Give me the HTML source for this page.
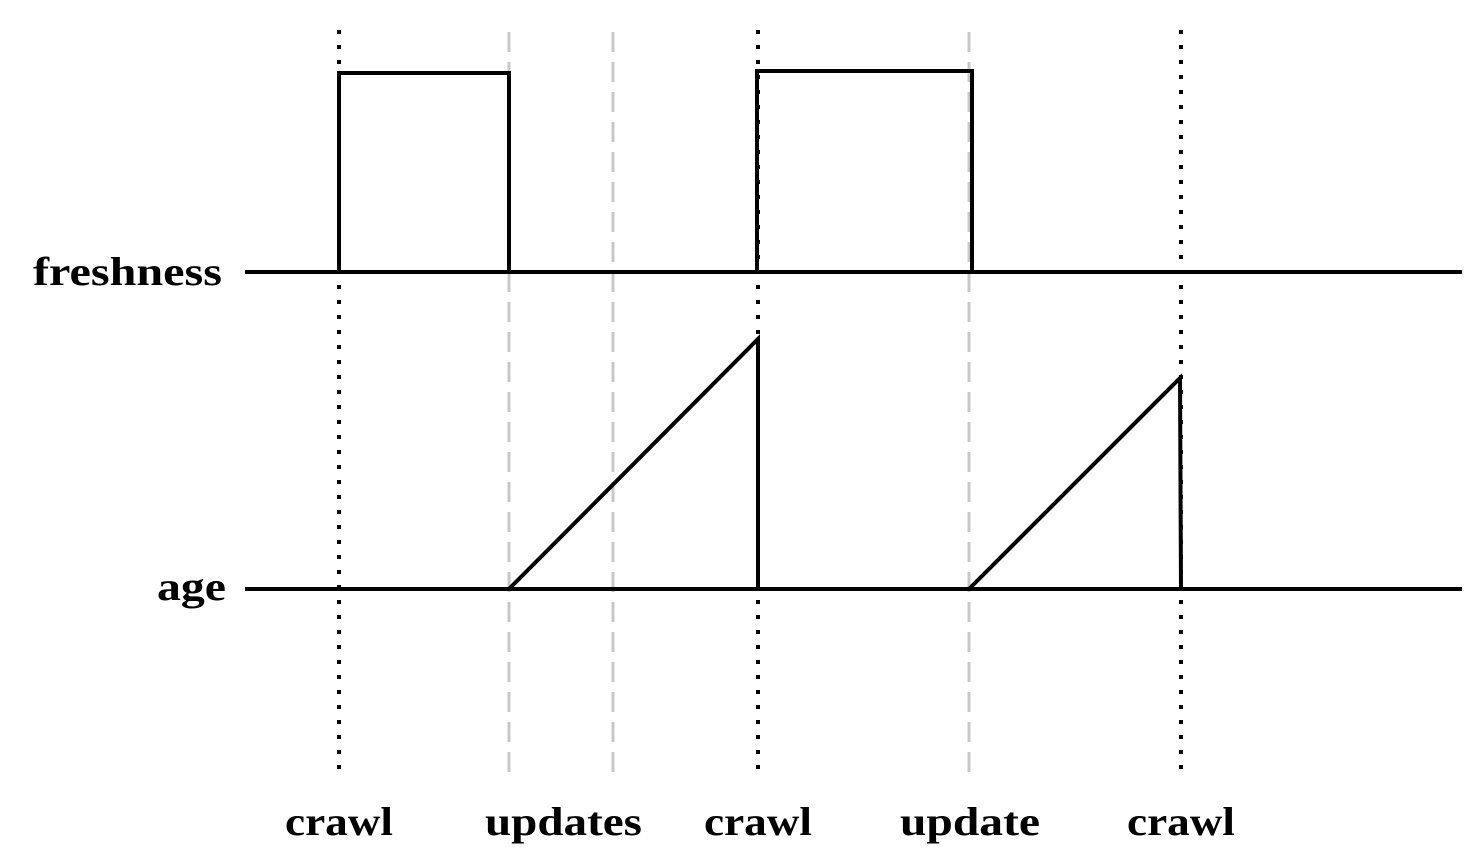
<!DOCTYPE html>
<html><head><meta charset="utf-8"><style>
html,body{margin:0;padding:0;background:#fff;}
svg{display:block}
text{font-family:"Liberation Serif",serif;font-weight:bold;font-size:40px;fill:#000}
</style></head><body>
<svg width="1482" height="860" viewBox="0 0 1482 860">
<g stroke="#c8c8c8" stroke-width="3" stroke-dasharray="20 10">
<line x1="509" y1="32" x2="509" y2="778"/>
<line x1="613" y1="32" x2="613" y2="778"/>
<line x1="969" y1="32" x2="969" y2="778"/>
</g>
<g stroke="#000" stroke-width="4" stroke-dasharray="4 11" stroke-linecap="butt">
<line x1="339" y1="30" x2="339" y2="775"/>
<line x1="758" y1="30" x2="758" y2="775"/>
<line x1="1181" y1="30" x2="1181" y2="775"/>
</g>
<g stroke="#000" stroke-width="4" fill="none">
<line x1="245" y1="272" x2="1462" y2="272"/>
<line x1="245" y1="589" x2="1462" y2="589"/>
<polyline points="339,272 339,73 509,73 509,272"/>
<polyline points="757,272 757,71 972,71 972,272"/>
<polyline points="509,589 758,339 758,589"/>
<polyline points="969,589 1180,378 1181,589"/>
</g>
<text x="33" y="285" textLength="189" lengthAdjust="spacingAndGlyphs">freshness</text>
<text x="157" y="600" textLength="69" lengthAdjust="spacingAndGlyphs">age</text>
<text x="285" y="835" textLength="108" lengthAdjust="spacingAndGlyphs">crawl</text>
<text x="485" y="835" textLength="157" lengthAdjust="spacingAndGlyphs">updates</text>
<text x="704" y="835" textLength="108" lengthAdjust="spacingAndGlyphs">crawl</text>
<text x="900" y="835" textLength="140" lengthAdjust="spacingAndGlyphs">update</text>
<text x="1127" y="835" textLength="108" lengthAdjust="spacingAndGlyphs">crawl</text>
</svg>
</body></html>
